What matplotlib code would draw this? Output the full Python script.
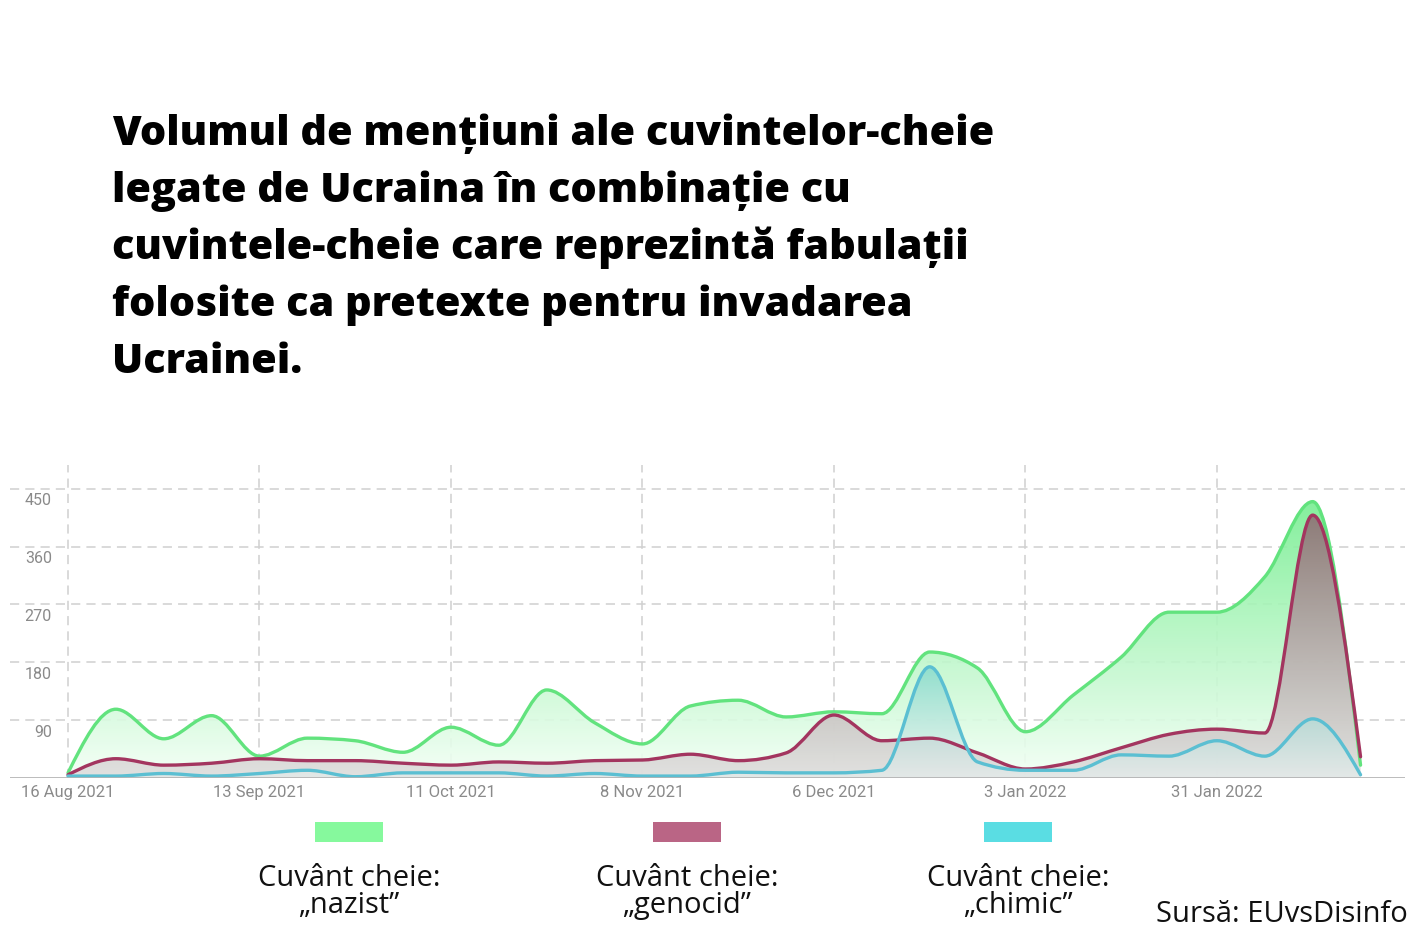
import numpy as np
import pandas as pd
import matplotlib
matplotlib.use("Agg")
import matplotlib.pyplot as plt
import matplotlib.dates as mdates
from matplotlib.path import Path
from matplotlib.patches import PathPatch, Rectangle
from matplotlib.colors import to_rgb

# weekly data (Mondays)
weeks = pd.date_range("2021-08-16", periods=28, freq="7D")
nazist = [8, 107, 61, 97, 34, 62, 58, 40, 79, 51, 137, 86, 53, 112,
          121, 95, 103, 100, 196, 171, 72, 129, 188, 258, 258, 313, 430, 20]
genocid = [5, 30, 20, 23, 30, 27, 27, 23, 20, 25, 23, 27, 28, 37,
           27, 39, 98, 58, 62, 39, 14, 25, 47, 68, 76, 70, 409, 33]
chimic = [3, 3, 7, 3, 7, 12, 2, 8, 8, 8, 3, 7, 3, 3,
          9, 8, 8, 12, 173, 25, 12, 12, 36, 34, 58, 34, 92, 5]

y_ticks = [90, 180, 270, 360, 450]
x_tick_dates = ["2021-08-16", "2021-09-13", "2021-10-11", "2021-11-08",
                "2021-12-06", "2022-01-03", "2022-01-31"]
x_tick_labels = ["16 Aug 2021", "13 Sep 2021", "11 Oct 2021", "8 Nov 2021",
                 "6 Dec 2021", "3 Jan 2022", "31 Jan 2022"]

title_lines = ["Volumul de menţiuni ale cuvintelor-cheie",
               "legate de Ucraina în combinaţie cu",
               "cuvintele-cheie care reprezintă fabulaţii",
               "folosite ca pretexte pentru invadarea",
               "Ucrainei."]
title_lines = [s.replace("ţ", "ț") for s in title_lines]

series = [
    # values, line colour, fill top/bottom colour, fill alpha top/bottom, legend colour, label
    (nazist, "#62e37e", "#78ee92", "#f4fff6", 0.9, 0.9, "#86f99d", "„nazist”"),
    (genocid, "#a3355f", "#8f7276", "#dedddc", 0.92, 0.85, "#ba6585", "„genocid”"),
    (chimic, "#5bbfd2", "#7fd7cc", "#e6eeee", 0.75, 0.55, "#5adde3", "„chimic”"),
]


def monotone_path(x, y):
    # cubic bezier path like d3 curveMonotoneX
    x = np.asarray(x, float)
    y = np.asarray(y, float)
    h = np.diff(x)
    s = np.diff(y) / h
    t = np.zeros_like(y)
    for i in range(1, len(y) - 1):
        p = (s[i - 1] * h[i] + s[i] * h[i - 1]) / (h[i - 1] + h[i])
        t[i] = (np.sign(s[i - 1]) + np.sign(s[i])) * min(abs(s[i - 1]), abs(s[i]), 0.5 * abs(p))
    t[0] = (3 * s[0] - t[1]) / 2
    t[-1] = (3 * s[-1] - t[-2]) / 2
    verts = [(x[0], y[0])]
    codes = [Path.MOVETO]
    for i in range(len(x) - 1):
        dx = h[i] / 3
        verts += [(x[i] + dx, y[i] + dx * t[i]),
                  (x[i + 1] - dx, y[i + 1] - dx * t[i + 1]),
                  (x[i + 1], y[i + 1])]
        codes += [Path.CURVE4] * 3
    return verts, codes


W, H = 1424, 952
fig = plt.figure(figsize=(W / 100, H / 100), dpi=100)
fig.patch.set_facecolor("white")

ax = fig.add_axes([10 / W, 174 / H, 1395 / W, 313 / H])
xs = mdates.date2num(weeks)
x_left = xs[0] - 8.48
x_right = xs[0] + 195.5
y_top = 487

for vals, lc, ctop, cbot, a_top, a_bot, _, _ in series:
    verts, codes = monotone_path(xs, vals)
    fill_verts = verts + [(xs[-1], 0), (xs[0], 0), (xs[0], 0)]
    fill_codes = codes + [Path.LINETO, Path.LINETO, Path.CLOSEPOLY]
    clip = PathPatch(Path(fill_verts, fill_codes), transform=ax.transData,
                     facecolor="none", edgecolor="none")
    f = np.linspace(1, 0, 256)[:, None]
    grad = np.zeros((256, 1, 4))
    grad[:, 0, :3] = f * np.array(to_rgb(ctop)) + (1 - f) * np.array(to_rgb(cbot))
    grad[:, 0, 3] = a_bot + (a_top - a_bot) * f[:, 0]
    im = ax.imshow(grad, extent=(xs[0], xs[-1], 0, max(vals)), aspect="auto",
                   origin="upper", zorder=2, interpolation="bilinear")
    im.set_clip_path(clip)

for vals, lc, *_ in series:
    verts, codes = monotone_path(xs, vals)
    ax.add_patch(PathPatch(Path(verts, codes), facecolor="none", edgecolor=lc,
                           lw=2.4, zorder=3, capstyle="round", joinstyle="round"))

ax.set_xlim(x_left, x_right)
ax.set_ylim(0, y_top)
for sp in ax.spines.values():
    sp.set_visible(False)

grid_kw = dict(color="#d0d0d0", lw=1.1, linestyle=(0, (6, 4)), zorder=1)
for v in y_ticks:
    ax.axhline(v, **grid_kw)
    ax.annotate(str(v), xy=(0.030, v), xycoords=ax.get_yaxis_transform(),
                xytext=(0, -12), textcoords="offset pixels", ha="right", va="center",
                fontsize=11.5, color="#8a8a8a", family="Roboto")
tick_x = mdates.date2num(pd.to_datetime(x_tick_dates))
for tx in tick_x:
    ax.axvline(tx, **grid_kw)
ax.axhline(0, color="#b0b0b0", lw=1.2, zorder=4)

ax.set_yticks([])
ax.set_xticks(tick_x)
ax.set_xticklabels(x_tick_labels, fontsize=12, color="#8a8a8a", family="Roboto")
ax.tick_params(axis="x", length=0, pad=5)

# title
for i, line in enumerate(title_lines):
    fig.text(112 / W, 1 - (145 + 57 * i) / H, line, fontsize=29.8, fontweight="heavy",
             family="Open Sans", color="black", va="baseline", ha="left")

# legend
legend_x = [349, 687, 1018]
for cx, s in zip(legend_x, series):
    sw, lab = s[6], s[7]
    fig.patches.append(Rectangle(((cx - 34) / W, 1 - 842 / H), 68 / W, 20 / H,
                                 transform=fig.transFigure, facecolor=sw,
                                 edgecolor="none"))
    fig.text(cx / W, 1 - 886 / H, "Cuvânt cheie:", fontsize=21, family="Open Sans",
             ha="center", va="baseline", color="#111111")
    fig.text(cx / W, 1 - 913 / H, lab, fontsize=21, family="Open Sans",
             ha="center", va="baseline", color="#111111")

fig.text(1408 / W, 1 - 922 / H, "Sursă: EUvsDisinfo", fontsize=21, family="Open Sans",
         ha="right", va="baseline", color="#111111")

fig.savefig("out.png", dpi=100)
